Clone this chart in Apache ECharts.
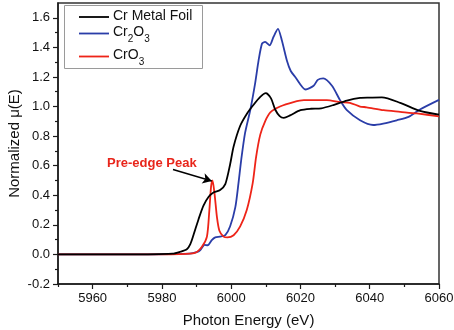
<!DOCTYPE html>
<html>
<head>
<meta charset="utf-8">
<script src="https://cdn.jsdelivr.net/npm/echarts@6/dist/echarts.min.js"></script>
<style>html,body{margin:0;padding:0;background:#fff}#c{width:454px;height:330px}</style>
</head>
<body>
<div id="c"></div>
<script>
// ---- data ----
const seriesNames = ['Cr Metal Foil', 'Cr2O3', 'CrO3'];
const metalX = [5950,5970,5983,5985.3,5987.2,5988.2,5989.1,5990.6,5992,5993.5,5995,5996.8,5998.3,5999.7,6000.7,6002.6,6004.5,6006.4,6008.4,6010,6011.5,6012.7,6014,6015.2,6017,6020,6023,6026,6029.5,6033.4,6037.2,6040,6043.5,6048.8,6054.5,6060];
const metalY = [0,0,0.005,0.018,0.035,0.07,0.13,0.24,0.33,0.39,0.42,0.435,0.475,0.61,0.73,0.87,0.95,1.01,1.065,1.09,1.055,0.98,0.935,0.923,0.94,0.975,0.985,0.988,1.01,1.04,1.058,1.06,1.062,1.025,0.97,0.945];
const cr2o3X = [5950,5970,5988,5990,5991.1,5992.3,5993.2,5994.4,5995.4,5996.8,5998.3,5999.7,6001.2,6002.1,6002.9,6004,6005.5,6006.9,6007.9,6008.9,6009.8,6011.1,6012.2,6013.5,6014.6,6016.1,6017.2,6018.5,6021.5,6023.8,6025,6026.6,6029.1,6031.5,6033.4,6037.2,6041,6043.9,6047.8,6051.2,6054.5,6060];
const cr2o3Y = [0,0,0.005,0.015,0.03,0.065,0.062,0.097,0.115,0.12,0.13,0.19,0.32,0.48,0.64,0.82,0.975,1.155,1.31,1.425,1.437,1.414,1.47,1.525,1.45,1.31,1.24,1.2,1.115,1.14,1.18,1.19,1.14,1.04,0.975,0.907,0.875,0.885,0.907,0.93,0.98,1.045];
const cro3X = [5950,5970,5985,5989.5,5991.5,5993,5993.7,5994.2,5994.6,5995.2,5995.9,5996.6,5997.8,5998.9,6000.7,6002.6,6004.5,6006.2,6007.2,6008.4,6009.8,6011.3,6014.1,6018,6021,6027.6,6031.5,6034.3,6037.2,6039.1,6044,6048.8,6053.6,6060];
const cro3Y = [0,0,0.002,0.01,0.05,0.12,0.3,0.46,0.5,0.41,0.25,0.16,0.12,0.115,0.13,0.19,0.3,0.48,0.66,0.81,0.9,0.96,1.0,1.03,1.043,1.043,1.03,1.025,1.0,0.995,0.975,0.964,0.953,0.934];
const xTickLabels = [5960,5980,6000,6020,6040,6060];
const xMinorTicks = [5950,5970,5990,6010,6030,6050];
const yTickLabels = [-0.2,0,0.2,0.4,0.6,0.8,1.0,1.2,1.4,1.6];
const yMinorTicks = [-0.1,0.1,0.3,0.5,0.7,0.9,1.1,1.3,1.5];
const annotText = 'Pre-edge Peak';
const annotTextPos = [5977.1, 0.617];
const arrowStart = [5983.2, 0.574];
const arrowEnd = [5994.4, 0.497];

const zip = (xs, ys) => xs.map((x, i) => [x, ys[i]]);
const FONT = 'Liberation Sans, Arial, sans-serif';
const AX = '#1a1a1a';
const COLORS = ['#000000', '#2a3da8', '#ee2418'];

const legendLabels = ['{a|Cr Metal Foil}', '{a|Cr}{s|2}{a|O}{s|3}', '{a|CrO}{s|3}'];
const legendRowY = [17, 33.5, 56.5];
const rich = {
  a: {fontSize: 14, fontFamily: FONT, fill: '#111', lineHeight: 16, verticalAlign: 'top'},
  s: {fontSize: 10, fontFamily: FONT, fill: '#111', lineHeight: 12, padding: [9, 0, 0, 0], verticalAlign: 'top'}
};
const legendChildren = [{
  type: 'rect', shape: {x: 64.5, y: 5.5, width: 138, height: 63},
  style: {fill: '#fff', stroke: '#9a9a9a', lineWidth: 1}
}];
legendRowY.forEach((y, i) => {
  legendChildren.push({type: 'line', shape: {x1: 79, y1: y, x2: 109, y2: y}, style: {stroke: COLORS[i], lineWidth: 1.8}});
  legendChildren.push({type: 'text', x: 113, y: y - 8, style: {text: legendLabels[i], rich: rich, verticalAlign: 'top', align: 'left'}});
});

const chart = echarts.init(document.getElementById('c'), null, {renderer: 'canvas'});
chart.setOption({
  animation: false,
  backgroundColor: '#fff',
  textStyle: {fontFamily: FONT},
  grid: {left: 58, right: 15, top: 3, bottom: 46, outerBoundsMode: 'none', containLabel: false,
         show: true, borderColor: '#333', borderWidth: 1.5, backgroundColor: 'transparent'},
  graphic: [{type: 'group', z: 100, children: legendChildren}],
  xAxis: [{
    type: 'value', min: 5950, max: 6060, position: 'bottom',
    axisLine: {show: true, onZero: false, lineStyle: {color: AX, width: 1.5}},
    axisTick: {show: true, customValues: xTickLabels, length: 5, lineStyle: {color: AX, width: 1.2}},
    axisLabel: {customValues: xTickLabels, fontSize: 13, color: '#111', margin: 8, fontFamily: FONT, formatter: v => String(v)},
    splitLine: {show: false},
    name: 'Photon Energy (eV)', nameLocation: 'middle', nameGap: 29, nameMoveOverlap: false,
    nameTextStyle: {fontSize: 15, color: '#111', fontFamily: FONT}
  }, {
    type: 'value', min: 5950, max: 6060, position: 'bottom',
    axisLine: {show: false, onZero: false},
    axisTick: {show: true, customValues: xMinorTicks, length: 3, lineStyle: {color: AX, width: 1.2}},
    axisLabel: {show: false}, splitLine: {show: false}
  }],
  yAxis: [{
    type: 'value', min: -0.2, max: 1.7, position: 'left',
    axisLine: {show: true, onZero: false, lineStyle: {color: AX, width: 1.5}},
    axisTick: {show: true, customValues: yTickLabels, length: 5, lineStyle: {color: AX, width: 1.2}},
    axisLabel: {customValues: yTickLabels, fontSize: 13, color: '#111', margin: 8, fontFamily: FONT, formatter: v => v.toFixed(1)},
    splitLine: {show: false},
    name: 'Normalized \u03bc(E)', nameLocation: 'middle', nameGap: 36, nameMoveOverlap: false,
    nameTextStyle: {fontSize: 15, color: '#111', fontFamily: FONT}
  }, {
    type: 'value', min: -0.2, max: 1.7, position: 'left',
    axisLine: {show: false, onZero: false},
    axisTick: {show: true, customValues: yMinorTicks, length: 3, lineStyle: {color: AX, width: 1.2}},
    axisLabel: {show: false}, splitLine: {show: false}
  }],
  series: [{
    name: seriesNames[0], type: 'line', data: zip(metalX, metalY), showSymbol: false, symbol: 'none',
    smooth: 0.25, lineStyle: {color: COLORS[0], width: 1.8}, itemStyle: {color: COLORS[0]}, z: 3
  }, {
    name: seriesNames[1], type: 'line', data: zip(cr2o3X, cr2o3Y), showSymbol: false, symbol: 'none',
    smooth: 0.25, lineStyle: {color: COLORS[1], width: 1.8}, itemStyle: {color: COLORS[1]}, z: 2
  }, {
    name: seriesNames[2], type: 'line', data: zip(cro3X, cro3Y), showSymbol: false, symbol: 'none',
    smooth: 0.25, lineStyle: {color: COLORS[2], width: 1.8}, itemStyle: {color: COLORS[2]}, z: 2,
    markLine: {
      silent: true, symbol: ['none', 'arrow'], symbolSize: [8, 9],
      lineStyle: {color: '#000', width: 1.5, type: 'solid'},
      label: {show: false},
      data: [[{coord: arrowStart}, {coord: arrowEnd}]]
    },
    markPoint: {
      silent: true, symbol: 'circle', symbolSize: 1, itemStyle: {color: 'rgba(0,0,0,0)'},
      label: {show: true, position: 'inside', formatter: annotText, color: '#e8251b', fontWeight: 'bold', fontSize: 13, fontFamily: FONT},
      data: [{coord: annotTextPos}]
    }
  }]
});
</script>
</body>
</html>
